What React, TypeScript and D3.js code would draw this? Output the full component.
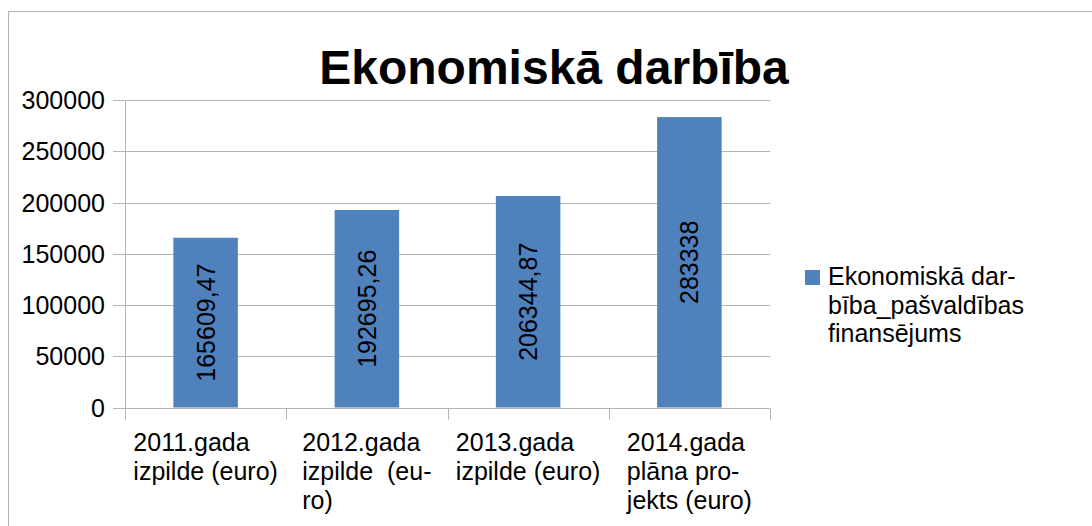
import React from "react";
import * as d3 from "d3";

const categoryLines: string[][] = [
  ["2011.gada", "izpilde (euro)"],
  ["2012.gada", "izpilde  (eu-", "ro)"],
  ["2013.gada", "izpilde (euro)"],
  ["2014.gada", "plāna pro-", "jekts (euro)"],
];
const categoryIds = ["c2011", "c2012", "c2013", "c2014"];
const values = [165609.47, 192695.26, 206344.87, 283338];
const valueLabels = ["165609,47", "192695,26", "206344,87", "283338"];
const yTicks = [0, 50000, 100000, 150000, 200000, 250000, 300000];
const legendLines = ["Ekonomiskā dar-", "bība_pašvaldības", "finansējums"];
const title = "Ekonomiskā darbība";

const FONT = "'Liberation Sans', Arial, sans-serif";
const BAR = "#4f81bd";
const GRID = "#b3b3b3";

function measure(text: string, size: number): number {
  const c = document.createElement("canvas");
  const ctx = c.getContext("2d");
  if (!ctx) return text.length * size * 0.55;
  ctx.font = `${size}px ${FONT}`;
  return ctx.measureText(text).width;
}

export default function App() {
  const W = 1092;
  const H = 526;
  const left = 125;
  const right = 770;
  const top = 100;
  const bottom = 407.5;
  const fs = 25;

  const x = d3.scaleBand<string>().domain(categoryIds).range([left, right]).paddingInner(0).paddingOuter(0);
  const xb = d3.scaleBand<string>().domain(categoryIds).range([left, right]).paddingInner(0.6).paddingOuter(0.3);
  const y = d3.scaleLinear().domain([0, 300000]).range([bottom, top]);
  const crisp = (v: number) => Math.round(v) + 0.5;

  const boundaries = categoryIds.map((id) => x(id) as number).concat([right]);

  return (
    <svg
      width={W}
      height={H}
      style={{ position: "absolute", left: 0, top: 0, background: "#fff" }}
      fontFamily={FONT}
    >
      <rect x={8.5} y={11.5} width={1200} height={700} fill="#fff" stroke={GRID} strokeWidth={1} />
      <text x={554} y={84} textAnchor="middle" fontSize={48} fontWeight="bold" fill="#000">
        {title}
      </text>

      {/* gridlines */}
      {yTicks.map((t) => (
        <line key={"g" + t} x1={113} x2={right} y1={crisp(y(t))} y2={crisp(y(t))} stroke={GRID} strokeWidth={1} />
      ))}
      {/* y axis line */}
      <line x1={left + 0.5} x2={left + 0.5} y1={crisp(y(300000))} y2={crisp(y(0)) + 10} stroke={GRID} />
      {/* x ticks */}
      {boundaries.map((b, i) => (
        <line key={"xt" + i} x1={crisp(b)} x2={crisp(b)} y1={crisp(y(0))} y2={crisp(y(0)) + 11} stroke={GRID} />
      ))}
      {/* y labels */}
      {yTicks.map((t) => (
        <text key={"yl" + t} x={105} y={y(t)} textAnchor="end" dominantBaseline="central" fontSize={fs} fill="#000">
          {t}
        </text>
      ))}

      {/* bars */}
      {categoryIds.map((id, i) => {
        const bx = xb(id) as number;
        const bw = xb.bandwidth();
        const by = y(values[i]);
        const cx = bx + bw / 2;
        const cy = (by + y(0)) / 2;
        return (
          <g key={"b" + id}>
            <rect x={bx} y={by} width={bw} height={y(0) - by} fill={BAR} />
            <text
              transform={`translate(${cx},${cy}) rotate(-90)`}
              textAnchor="middle"
              dominantBaseline="central"
              fontSize={fs}
              fill="#000"
            >
              {valueLabels[i]}
            </text>
          </g>
        );
      })}
      {/* x axis line over bars */}
      <line x1={left} x2={right} y1={crisp(y(0))} y2={crisp(y(0))} stroke={GRID} />

      {/* category labels */}
      {categoryIds.map((id, i) => {
        const lines = categoryLines[i];
        const bw = Math.max(...lines.map((l) => measure(l, fs)));
        const cx = (x(id) as number) + x.bandwidth() / 2;
        const lx = cx - bw / 2;
        return (
          <text key={"cl" + id} fontSize={fs} fill="#000" style={{ whiteSpace: "pre" }}>
            {lines.map((l, j) => (
              <tspan key={j} x={lx} y={451 + j * 28.75}>
                {l}
              </tspan>
            ))}
          </text>
        );
      })}

      {/* legend */}
      <rect x={805} y={270} width={15} height={15} fill={BAR} />
      <text fontSize={fs} fill="#000">
        {legendLines.map((l, j) => (
          <tspan key={j} x={828} y={285 + j * 28.5}>
            {l}
          </tspan>
        ))}
      </text>
    </svg>
  );
}
